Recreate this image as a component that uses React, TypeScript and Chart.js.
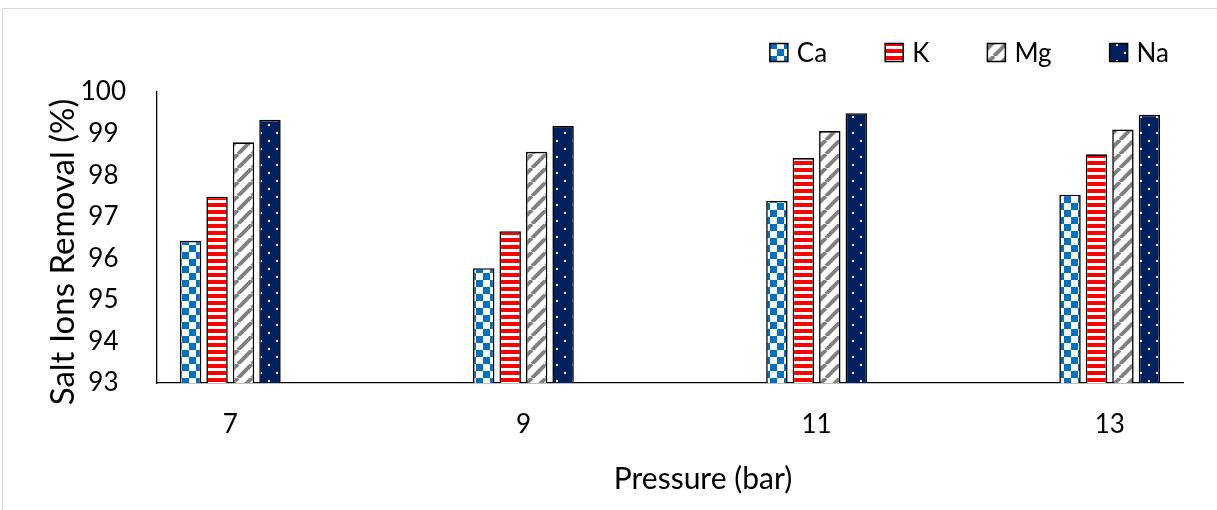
import React, { useEffect, useRef } from 'react';
import { Chart, registerables } from 'chart.js';

Chart.register(...registerables);

// Operating pressure (bar) for each group of bars
const pressures = [7, 9, 11, 13];

// Removal efficiency (%) per salt ion
const caRemoval = [96.42, 95.76, 97.38, 97.53];
const kRemoval = [97.48, 96.65, 98.41, 98.5];
const mgRemoval = [98.79, 98.56, 99.06, 99.1];
const naRemoval = [99.33, 99.18, 99.49, 99.45];

const seriesNames = ['Ca', 'K', 'Mg', 'Na'];

const xTitle = 'Pressure (bar)';
const yTitle = 'Salt Ions Removal (%)';

const yMin = 93;
const yMax = 100;

const FONT = 'Lato, "Open Sans", sans-serif';

function makePattern(w: number, h: number, paint: (c: CanvasRenderingContext2D) => void) {
  const tile = document.createElement('canvas');
  tile.width = w;
  tile.height = h;
  const c = tile.getContext('2d')!;
  paint(c);
  return c.createPattern(tile, 'repeat')!;
}

function buildPatterns() {
  const checker = makePattern(14, 14, (c) => {
    c.fillStyle = '#ffffff';
    c.fillRect(0, 0, 14, 14);
    c.fillStyle = '#0070C0';
    c.fillRect(0, 0, 7, 7);
    c.fillRect(7, 7, 7, 7);
  });
  const stripes = makePattern(7, 7, (c) => {
    c.fillStyle = '#ffffff';
    c.fillRect(0, 0, 7, 7);
    c.fillStyle = '#FF0000';
    c.fillRect(0, 0, 7, 4);
  });
  const diagonal = makePattern(14, 14, (c) => {
    c.fillStyle = '#ffffff';
    c.fillRect(0, 0, 14, 14);
    c.strokeStyle = '#808080';
    c.lineWidth = 4;
    for (const x0 of [-14, 0, 14]) {
      c.beginPath();
      c.moveTo(x0, 14);
      c.lineTo(x0 + 14, 0);
      c.stroke();
    }
  });
  const dots = makePattern(16, 16, (c) => {
    c.fillStyle = '#002060';
    c.fillRect(0, 0, 16, 16);
    c.fillStyle = '#ffffff';
    c.fillRect(4, 4, 2, 2);
    c.fillRect(12, 12, 2, 2);
  });
  return [checker, stripes, diagonal, dots];
}

// Thin grey frame around the chart
const framePlugin = {
  id: 'frame',
  beforeDraw(chart: any) {
    const { ctx, width, height } = chart;
    ctx.save();
    ctx.strokeStyle = '#d9d9d9';
    ctx.lineWidth = 1;
    ctx.beginPath();
    ctx.moveTo(2.5, height);
    ctx.lineTo(2.5, 8.5);
    ctx.lineTo(width, 8.5);
    ctx.stroke();
    ctx.restore();
  },
};

// Axis titles, placed relative to the whole chart frame
const axisTitlePlugin = {
  id: 'axisTitles',
  afterDraw(chart: any) {
    const { ctx } = chart;
    ctx.save();
    ctx.fillStyle = '#000000';
    ctx.textAlign = 'center';
    ctx.textBaseline = 'middle';
    ctx.font = `30px ${FONT}`;
    ctx.fillText(xTitle, 703, 479);
    ctx.translate(63, 252);
    ctx.rotate(-Math.PI / 2);
    ctx.font = `33px ${FONT}`;
    ctx.fillText(yTitle, 0, 0);
    ctx.restore();
  },
};

// Right-aligned legend row with patterned swatches
const legendPlugin = {
  id: 'patternLegend',
  afterDraw(chart: any) {
    const { ctx } = chart;
    const datasets = chart.data.datasets;
    const box = 18;
    const textGap = 9;
    const itemGap = 58;
    const rightEdge = 1169;
    const centerY = 52.5;
    ctx.save();
    ctx.font = `26px ${FONT}`;
    ctx.textBaseline = 'middle';
    ctx.textAlign = 'left';
    let x = rightEdge;
    for (let i = datasets.length - 1; i >= 0; i--) {
      const ds = datasets[i];
      const tw = ctx.measureText(ds.label).width;
      const textX = x - tw;
      const boxX = textX - textGap - box;
      ctx.fillStyle = ds.backgroundColor;
      ctx.fillRect(boxX, centerY - box / 2, box, box);
      ctx.strokeStyle = '#000000';
      ctx.lineWidth = 1.5;
      ctx.strokeRect(boxX, centerY - box / 2, box, box);
      ctx.fillStyle = '#000000';
      ctx.fillText(ds.label, textX, centerY + 1);
      x = boxX - itemGap;
    }
    ctx.restore();
  },
};

export default function App() {
  const canvasRef = useRef<HTMLCanvasElement | null>(null);

  useEffect(() => {
    const canvas = canvasRef.current;
    if (!canvas) return;
    const patterns = buildPatterns();
    const seriesValues = [caRemoval, kRemoval, mgRemoval, naRemoval];

    const chart = new Chart(canvas, {
      type: 'bar',
      data: {
        datasets: seriesNames.map((name, s) => ({
          label: name,
          data: pressures.map((p, i) => ({ x: p, y: seriesValues[s][i] })),
          backgroundColor: patterns[s] as any,
          borderColor: '#000000',
          borderWidth: 1.6,
          categoryPercentage: 0.361,
          barPercentage: 0.81,
        })),
      },
      options: {
        responsive: false,
        animation: false,
        layout: { padding: { top: 92, right: 34, left: 0, bottom: 0 } },
        plugins: {
          legend: { display: false },
          tooltip: { enabled: false },
        },
        scales: {
          x: {
            type: 'linear',
            min: 6.5,
            max: 13.5,
            offset: false,
            afterBuildTicks: (scale: any) => {
              scale.ticks = pressures.map((v) => ({ value: v }));
            },
            afterFit: (scale: any) => {
              scale.height = 127;
            },
            grid: { display: false, drawTicks: false, offset: false },
            border: { display: true, color: '#000000', width: 1.3 },
            ticks: {
              color: '#000000',
              font: { family: FONT, size: 26 },
              padding: 26,
              autoSkip: false,
              maxRotation: 0,
            },
          },
          y: {
            min: yMin,
            max: yMax,
            afterFit: (scale: any) => {
              scale.width = 157;
            },
            grid: { display: false, drawTicks: false },
            border: { display: true, color: '#000000', width: 1.3 },
            ticks: {
              stepSize: 1,
              color: '#000000',
              font: { family: FONT, size: 26 },
              padding: 31,
              crossAlign: 'center',
            },
          },
        },
      },
      plugins: [framePlugin, axisTitlePlugin, legendPlugin],
    });

    return () => chart.destroy();
  }, []);

  return (
    <div style={{ position: 'absolute', left: 0, top: 0, width: 1217, height: 510, background: '#ffffff' }}>
      <canvas ref={canvasRef} width={1217} height={510} />
    </div>
  );
}
